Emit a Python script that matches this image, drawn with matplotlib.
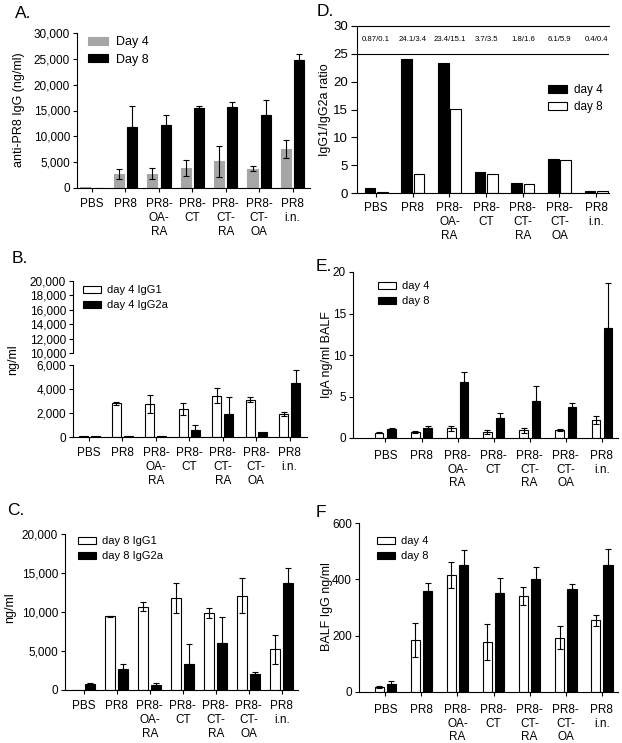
import numpy as np
import matplotlib
matplotlib.use('Agg')
import matplotlib.pyplot as plt
from matplotlib.ticker import FuncFormatter

plt.rcParams['font.family'] = ['Liberation Sans', 'DejaVu Sans']
plt.rcParams['font.size'] = 8.5
plt.rcParams['axes.linewidth'] = 0.8

W, H = 622, 743

groups = ['PBS', 'PR8', 'PR8-\nOA-\nRA', 'PR8-\nCT', 'PR8-\nCT-\nRA', 'PR8-\nCT-\nOA', 'PR8\ni.n.']

# A: anti-PR8 IgG (ng/ml)
a_d4 = [100, 2700, 2800, 3900, 5200, 3700, 7500]
a_d4_err = [0, 1000, 1100, 1600, 3000, 500, 1700]
a_d8 = [0, 11800, 12100, 15400, 15700, 14200, 24700]
a_d8_err = [0, 4000, 2100, 400, 1000, 2900, 1200]

# B: day 4 IgG1 / IgG2a
b_g1 = [50, 2800, 2750, 2350, 3450, 3100, 1900]
b_g1_err = [0, 100, 750, 500, 650, 200, 150]
b_g2a = [60, 60, 60, 600, 1900, 450, 4500]
b_g2a_err = [0, 0, 0, 400, 1400, 0, 1100]

# C: day 8 IgG1 / IgG2a
c_g1 = [50, 9450, 10700, 11800, 9850, 12100, 5200]
c_g1_err = [0, 50, 600, 1900, 600, 2200, 1900]
c_g2a = [750, 2700, 700, 3300, 6000, 2000, 13700]
c_g2a_err = [200, 600, 150, 2600, 3400, 300, 2000]

# D: IgG1/IgG2a ratio
d_d4 = [0.87, 24.1, 23.4, 3.7, 1.8, 6.1, 0.4]
d_d8 = [0.1, 3.4, 15.1, 3.5, 1.6, 5.9, 0.4]
d_text = ['0.87/0.1', '24.1/3.4', '23.4/15.1', '3.7/3.5', '1.8/1.6', '6.1/5.9', '0.4/0.4']

# E: IgA ng/ml BALF
e_d4 = [0.65, 0.7, 1.15, 0.75, 0.95, 0.95, 2.15]
e_d4_err = [0.1, 0.15, 0.35, 0.25, 0.3, 0.1, 0.5]
e_d8 = [1.05, 1.25, 6.75, 2.45, 4.45, 3.7, 13.3]
e_d8_err = [0.1, 0.25, 1.25, 0.6, 1.85, 0.5, 5.4]

# F: BALF IgG ng/ml
f_d4 = [18, 185, 415, 178, 340, 193, 255]
f_d4_err = [3, 60, 45, 65, 32, 40, 20]
f_d8 = [30, 358, 452, 353, 400, 365, 452]
f_d8_err = [8, 28, 52, 53, 43, 18, 57]

GRAY = '#a6a6a6'


def rect(l, t, r, b):
    return [l / W, 1 - b / H, (r - l) / W, (b - t) / H]


def bars(ax, vals, errs, off, width, color, both, edge='black'):
    xs = np.arange(len(vals)) + off
    h = ax.bar(xs, vals, width, color=color, edgecolor=edge, linewidth=0.8, zorder=2)
    errs = np.array(errs, dtype=float)
    keep = errs > 0
    lo = errs if both else np.zeros_like(errs)
    ax.errorbar(xs[keep], np.array(vals)[keep], yerr=[lo[keep], errs[keep]], fmt='none',
                ecolor='black', elinewidth=0.8, capsize=2.5, capthick=0.8, zorder=3)
    return h


def style(ax, xlim, ylim, yticks, comma=False, xlabels=True, xpad=4.5):
    for s in ['top', 'right']:
        ax.spines[s].set_visible(False)
    ax.set_xlim(xlim)
    ax.set_ylim(ylim)
    ax.set_yticks(yticks)
    if comma:
        ax.yaxis.set_major_formatter(FuncFormatter(lambda v, p: f'{v:,.0f}'))
    ax.set_xticks(range(7))
    if xlabels:
        ax.set_xticklabels(groups)
    ax.tick_params(direction='out', length=3, width=0.8, pad=2)
    ax.tick_params(axis='x', pad=xpad)


def legend(ax, handles, labels, x, y, fs):
    ax.legend(handles, labels, loc='upper left', bbox_to_anchor=(x / W, 1 - y / H),
              bbox_transform=fig.transFigure, frameon=False, fontsize=fs,
              handlelength=1.6, handleheight=0.6, handletextpad=0.6,
              labelspacing=0.45, borderpad=0, borderaxespad=0)


def ylab(ax, text, x, y):
    # x is the centre of the rotated label in pixels
    ax.set_ylabel(text, fontsize=9)
    ax.yaxis.set_label_coords((x + 6) / W, 1 - y / H, transform=fig.transFigure)


fig = plt.figure(figsize=(W / 100, H / 100), dpi=100)

# ---- A ----
axA = fig.add_axes(rect(77, 33, 310, 188))
h1 = bars(axA, a_d4, a_d4_err, -0.2, 0.3, GRAY, True, edge=GRAY)
h2 = bars(axA, a_d8, a_d8_err, 0.2, 0.3, 'black', False)
style(axA, (-0.45, 6.52), (0, 30000), range(0, 30001, 5000), comma=True)
ylab(axA, 'anti-PR8 IgG (ng/ml)', 19, 110)
legend(axA, [h1, h2], ['Day 4', 'Day 8'], 88, 36, 9)

# ---- B (broken axis) ----
axBu = fig.add_axes(rect(73, 281, 307, 353))
axB = fig.add_axes(rect(73, 365, 307, 437))
hb1 = bars(axB, b_g1, b_g1_err, -0.18, 0.27, 'white', True)
hb2 = bars(axB, b_g2a, b_g2a_err, 0.18, 0.27, 'black', False)
style(axB, (-0.48, 6.52), (0, 6000), range(0, 6001, 2000), comma=True)
style(axBu, (-0.48, 6.52), (10000, 20000), range(10000, 20001, 2000), comma=True, xlabels=False)
axBu.spines['bottom'].set_visible(False)
axBu.set_xticks([])
ylab(axB, 'ng/ml', 13, 360)
legend(axBu, [hb1, hb2], ['day 4 IgG1', 'day 4 IgG2a'], 83, 285, 8)

# ---- C ----
axC = fig.add_axes(rect(65, 534, 298, 690))
hc1 = bars(axC, c_g1, c_g1_err, -0.2, 0.3, 'white', True)
hc2 = bars(axC, c_g2a, c_g2a_err, 0.2, 0.3, 'black', False)
style(axC, (-0.57, 6.49), (0, 20000), range(0, 20001, 5000), comma=True)
ylab(axC, 'ng/ml', 10, 608)
legend(axC, [hc1, hc2], ['day 8 IgG1', 'day 8 IgG2a'], 78, 536, 8)

# ---- D ----
axD = fig.add_axes(rect(357, 26, 609, 193))
hd1 = axD.bar(np.arange(7) - 0.17, d_d4, 0.29, color='black', edgecolor='black', linewidth=0.8, zorder=2)
hd2 = axD.bar(np.arange(7) + 0.17, d_d8, 0.29, color='white', edgecolor='black', linewidth=0.8, zorder=2)
style(axD, (-0.52, 6.35), (0, 30), range(0, 31, 5), xpad=3.5)
axD.tick_params(axis='y', labelsize=9.5, length=4.5)
axD.axhline(25, color='black', lw=0.8)
axD.axhline(30, color='black', lw=0.8, clip_on=False)
for i, t in enumerate(d_text):
    axD.text(i, 27.5, t, ha='center', va='center', fontsize=5.6)
ylab(axD, 'IgG1/IgG2a ratio', 325, 110)
legend(axD, [hd1, hd2], ['day 4', 'day 8'], 548, 84, 8.5)

# ---- E ----
axE = fig.add_axes(rect(353, 272, 618, 438))
he1 = bars(axE, e_d4, e_d4_err, -0.17, 0.23, 'white', True)
he2 = bars(axE, e_d8, e_d8_err, 0.17, 0.23, 'black', False)
style(axE, (-0.9, 6.45), (0, 20), range(0, 21, 5), xpad=5.5)
ylab(axE, 'IgA ng/ml BALF', 327, 355)
legend(axE, [he1, he2], ['day 4', 'day 8'], 378, 281, 8)

# ---- F ----
axF = fig.add_axes(rect(359, 523, 618, 692))
hf1 = bars(axF, f_d4, f_d4_err, -0.17, 0.26, 'white', True)
hf2 = bars(axF, f_d8, f_d8_err, 0.17, 0.26, 'black', False)
style(axF, (-0.73, 6.45), (0, 600), range(0, 601, 200), xpad=5.5)
ylab(axF, 'BALF IgG ng/ml', 327, 607)
legend(axF, [hf1, hf2], ['day 4', 'day 8'], 377, 536, 8)

# panel letters
for lab, x, y in [('A.', 15, 18), ('D.', 317, 16), ('B.', 12, 263),
                  ('E.', 316, 271), ('C.', 7, 515), ('F', 316, 517)]:
    fig.text(x / W, 1 - y / H, lab, fontsize=12.5, va='baseline', ha='left')

fig.savefig('out.png', dpi=100)
